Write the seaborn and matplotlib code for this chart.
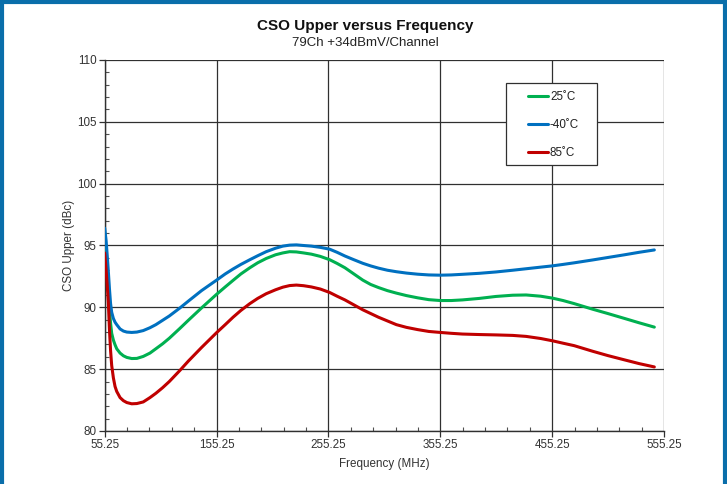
import numpy as np
import pandas as pd
import matplotlib
matplotlib.use("Agg")
import matplotlib.pyplot as plt
from matplotlib.lines import Line2D
from matplotlib.patches import Rectangle
from matplotlib.ticker import MultipleLocator, FixedLocator
import seaborn as sns

# ---- data ----
freq = [55.25, 56.5, 57.5, 58.5, 59.5, 60.5, 61.5, 63, 64.5, 66, 69, 72, 75, 79.4, 84,
        89.7, 95.7, 101, 107, 113, 122.5, 130, 141.8, 155.25, 163, 170, 177, 185, 192,
        199.6, 208, 214.5, 220.6, 226.6, 233, 240, 248, 256.4, 263, 270, 278, 286, 293,
        300, 308, 316, 325, 335, 345, 355.25, 365, 375, 390, 405, 420, 432, 445, 455.25,
        465, 475, 491.4, 505, 520, 533, 546.6]
cso_m40 = [96.4, 95.4, 94.2, 92.9, 91.5, 90.3, 89.6, 89.1, 88.8, 88.6, 88.25, 88.08, 88.0, 87.97, 88.0,
           88.12, 88.35, 88.6, 88.95, 89.3, 89.95, 90.5, 91.35, 92.2, 92.7, 93.1, 93.47, 93.85, 94.17,
           94.5, 94.78, 94.95, 95.03, 95.05, 95.0, 94.95, 94.85, 94.7, 94.45, 94.15, 93.85, 93.56, 93.35,
           93.17, 93.0, 92.88, 92.77, 92.68, 92.62, 92.6, 92.62, 92.67, 92.75, 92.86, 93.0, 93.12, 93.25, 93.35,
           93.47, 93.6, 93.83, 94.03, 94.25, 94.45, 94.64]
cso_25 = [95.4, 94.3, 93.0, 91.5, 89.9, 88.7, 87.9, 87.35, 86.97, 86.65, 86.3, 86.08, 85.95, 85.86, 85.87,
          86.03, 86.3, 86.65, 87.05, 87.5, 88.3, 88.95, 89.95, 91.05, 91.65, 92.18, 92.7, 93.2, 93.6,
          93.95, 94.25, 94.4, 94.5, 94.48, 94.4, 94.3, 94.12, 93.85, 93.55, 93.2, 92.7, 92.2, 91.85,
          91.6, 91.35, 91.15, 90.95, 90.77, 90.62, 90.55, 90.55, 90.6, 90.72, 90.88, 90.98, 91.0, 90.9, 90.75,
          90.55, 90.3, 89.85, 89.5, 89.1, 88.75, 88.4]
cso_85 = [94.4, 93.0, 91.8, 90.4, 88.2, 86.5, 85.3, 84.3, 83.6, 83.2, 82.7, 82.45, 82.3, 82.2, 82.22,
          82.35, 82.7, 83.05, 83.5, 84.0, 84.9, 85.65, 86.75, 87.95, 88.6, 89.2, 89.75, 90.3, 90.72,
          91.1, 91.42, 91.63, 91.76, 91.8, 91.75, 91.65, 91.48, 91.2, 90.9, 90.6, 90.2, 89.8, 89.5,
          89.2, 88.9, 88.6, 88.38, 88.2, 88.05, 87.97, 87.9, 87.84, 87.8, 87.77, 87.73, 87.65, 87.48, 87.3,
          87.1, 86.9, 86.45, 86.1, 85.75, 85.45, 85.18]
series_labels = ["25\u02daC", "-40\u02daC", "85\u02daC"]
series_values = [cso_25, cso_m40, cso_85]
series_colors = ["#00B050", "#0070C0", "#C00000"]
xticks = [55.25, 155.25, 255.25, 355.25, 455.25, 555.25]
xtick_labels = ["55.25", "155.25", "255.25", "355.25", "455.25", "555.25"]
yticks = [80, 85, 90, 95, 100, 105, 110]

title = "CSO Upper versus Frequency"
subtitle = "79Ch +34dBmV/Channel"

sns.set_theme(style="white")
plt.rcParams["font.family"] = ["Liberation Sans", "DejaVu Sans"]

W, H = 727, 484
fig = plt.figure(figsize=(W / 100, H / 100), dpi=100)
fig.patch.set_facecolor("white")

ax_l, ax_r, ax_t, ax_b = 104.7, 664.0, 60.0, 431.0
ax = fig.add_axes([ax_l / W, 1 - ax_b / H, (ax_r - ax_l) / W, (ax_b - ax_t) / H])
ax.set_facecolor("white")

rows = []
for lab, vals in zip(series_labels, series_values):
    for f, v in zip(freq, vals):
        rows.append({"freq": f, "cso": v, "temp": lab})
df = pd.DataFrame(rows)

sns.lineplot(data=df, x="freq", y="cso", hue="temp", hue_order=series_labels,
             palette=series_colors, linewidth=2.2, ax=ax, sort=False,
             estimator=None, legend=False, zorder=3)
for ln in ax.get_lines():
    ln.set_solid_joinstyle("round")
    ln.set_solid_capstyle("round")

ax.set_xlim(55.25, 555.25)
ax.set_ylim(80, 110)
ax.xaxis.set_major_locator(FixedLocator(xticks))
ax.set_xticklabels(xtick_labels)
ax.xaxis.set_minor_locator(FixedLocator(np.arange(75.25, 555.25, 20)))
ax.yaxis.set_major_locator(FixedLocator(yticks))
ax.yaxis.set_minor_locator(MultipleLocator(1))

ax.grid(True, which="major", color="#303030", linewidth=0.9)
ax.tick_params(axis="both", which="major", direction="out", length=4, width=0.9,
               color="#303030", labelsize=8.4, labelcolor="#333333", pad=2,
               left=True, bottom=True)
ax.tick_params(axis="both", which="minor", direction="in", length=3, width=0.8,
               color="#505050", left=True, bottom=True)
for s in ["left", "bottom"]:
    ax.spines[s].set_color("#303030")
    ax.spines[s].set_linewidth(1.0)
for s in ["top", "right"]:
    ax.spines[s].set_visible(False)

ax.set_xlabel("Frequency (MHz)", fontsize=8.4, color="#333333", labelpad=5)
ax.set_ylabel("CSO Upper (dBc)", fontsize=8.4, color="#333333", labelpad=1)

fig.text(365.5 / W, 1 - 26 / H, title, ha="center", va="center",
         fontsize=11, fontweight="bold", color="#111111")
fig.text(365.5 / W, 1 - 43 / H, subtitle, ha="center", va="center",
         fontsize=9.5, color="#222222")

# legend box
bx0, bx1, by0, by1 = 506.0, 597.0, 82.7, 165.0
def axx(px):
    return (px - ax_l) / (ax_r - ax_l)
def axy(py):
    return (ax_b - py) / (ax_b - ax_t)
ax.add_patch(Rectangle((axx(bx0), axy(by1)), axx(bx1) - axx(bx0), axy(by0) - axy(by1),
                       transform=ax.transAxes, facecolor="white", edgecolor="#303030",
                       linewidth=0.9, zorder=5))
handles = [Line2D([], [], color=c, linewidth=2.2) for c in series_colors]
leg = ax.legend(handles, series_labels, loc="upper left",
                bbox_to_anchor=(axx(522.5), axy(85.5)), frameon=False, borderpad=0,
                handlelength=1.65, handletextpad=0.2, labelspacing=1.35,
                prop={"size": 8.4})
for t in leg.get_texts():
    t.set_color("#222222")
leg.set_zorder(6)

# blue frame around figure
bc = "#0A6EAA"
fig.add_artist(Line2D([0, 1], [1 - 2 / H, 1 - 2 / H], transform=fig.transFigure, color=bc, linewidth=3))
fig.add_artist(Line2D([2 / W, 2 / W], [0, 1], transform=fig.transFigure, color=bc, linewidth=3))
fig.add_artist(Line2D([1 - 2.5 / W, 1 - 2.5 / W], [0, 1], transform=fig.transFigure, color=bc, linewidth=3))

fig.savefig("out.png", dpi=100, facecolor="white")
